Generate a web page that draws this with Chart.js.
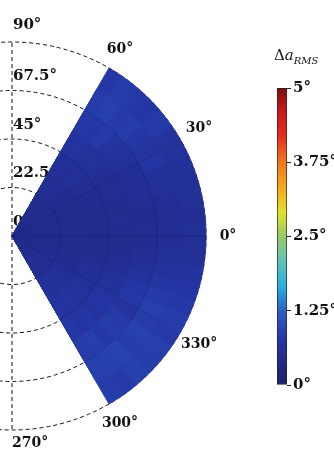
<!DOCTYPE html>
<html lang="en">
<head>
  <meta charset="UTF-8" />
  <title>RMS pointing error map</title>
  <script src="https://cdn.jsdelivr.net/npm/chart.js"></script>
  <style>
    body {
      margin: 0;
      width: 334px;
      height: 450px;
      overflow: hidden;
      position: relative;
      background: #fff;
      font-family: "DejaVu Serif", serif;
      color: #111;
    }
    #polar { position: absolute; left: -182px; top: 0; }
    #cbar { position: absolute; left: 262px; top: 70px; }
    .cbar-title {
      position: absolute;
      left: 274px;
      top: 46px;
      font-size: 15px;
      white-space: nowrap;
    }
    .cbar-title sub { font-size: 10px; font-style: italic; vertical-align: -4px; }
  </style>
</head>
<body>
  <canvas id="polar" width="600" height="450"></canvas>
  <div class="cbar-title">Δ<i>a</i><sub>RMS</sub></div>
  <canvas id="cbar" width="90" height="330"></canvas>

  <script>
    // azimuth bin centres (deg), from 60° down to -60° (=300°)
    const azimuthCells = [57.5, 52.5, 47.5, 42.5, 37.5, 32.5, 27.5, 22.5, 17.5, 12.5, 7.5, 2.5,
                          -2.5, -7.5, -12.5, -17.5, -22.5, -27.5, -32.5, -37.5, -42.5, -47.5, -52.5, -57.5];
    // outer edge of each elevation ring (deg)
    const ringEdges = [11.25, 22.5, 33.75, 45, 56.25, 67.5, 78.75, 90];
    // RMS error (deg), one row per ring (inner -> outer), one column per azimuth cell
    const rmsError = [
      [0.45, 0.42, 0.47, 0.44, 0.46, 0.43, 0.47, 0.45, 0.44, 0.46, 0.42, 0.45, 0.44, 0.47, 0.43, 0.45, 0.46, 0.44, 0.47, 0.45, 0.43, 0.46, 0.45, 0.44],
      [0.44, 0.48, 0.43, 0.46, 0.42, 0.47, 0.44, 0.41, 0.45, 0.43, 0.46, 0.40, 0.43, 0.45, 0.42, 0.47, 0.44, 0.48, 0.45, 0.50, 0.47, 0.49, 0.52, 0.48],
      [0.50, 0.47, 0.52, 0.49, 0.45, 0.48, 0.43, 0.46, 0.42, 0.44, 0.41, 0.43, 0.45, 0.42, 0.46, 0.44, 0.48, 0.46, 0.52, 0.55, 0.53, 0.58, 0.56, 0.60],
      [0.55, 0.58, 0.52, 0.56, 0.50, 0.47, 0.45, 0.49, 0.44, 0.42, 0.46, 0.43, 0.41, 0.45, 0.44, 0.48, 0.50, 0.53, 0.58, 0.62, 0.60, 0.66, 0.63, 0.68],
      [0.64, 0.68, 0.62, 0.60, 0.55, 0.52, 0.48, 0.50, 0.46, 0.44, 0.47, 0.45, 0.43, 0.46, 0.49, 0.52, 0.58, 0.62, 0.66, 0.70, 0.64, 0.72, 0.68, 0.74],
      [0.76, 0.72, 0.78, 0.68, 0.64, 0.58, 0.54, 0.50, 0.52, 0.47, 0.45, 0.49, 0.46, 0.50, 0.55, 0.62, 0.70, 0.74, 0.68, 0.78, 0.82, 0.76, 0.84, 0.80],
      [0.82, 0.86, 0.78, 0.80, 0.72, 0.66, 0.70, 0.58, 0.55, 0.52, 0.50, 0.48, 0.52, 0.56, 0.62, 0.72, 0.78, 0.84, 0.80, 0.88, 0.82, 0.90, 0.86, 0.84],
      [0.74, 0.80, 0.76, 0.72, 0.78, 0.68, 0.62, 0.58, 0.54, 0.56, 0.52, 0.55, 0.53, 0.58, 0.64, 0.70, 0.76, 0.82, 0.78, 0.84, 0.80, 0.86, 0.78, 0.82]
    ];
    const radialTicks = [0, 22.5, 45, 67.5, 90];
    const azimuthTicks = [60, 30, 0, 330, 300, 270];
    const colorTicks = [0, 1.25, 2.5, 3.75, 5];

    // jet-like colour map for 0..5 deg
    const cmap = [
      [0, [28, 30, 105]], [0.7, [36, 52, 162]], [1.25, [45, 95, 195]], [1.65, [40, 175, 225]],
      [2.1, [100, 195, 180]], [2.5, [150, 200, 100]], [2.9, [225, 225, 45]], [3.3, [245, 170, 30]],
      [3.75, [240, 120, 30]], [4.2, [230, 45, 30]], [4.6, [200, 25, 25]], [5, [125, 15, 15]]
    ];
    function colorFor(v) {
      for (let i = 1; i < cmap.length; i++) {
        if (v <= cmap[i][0]) {
          const [v0, c0] = cmap[i - 1], [v1, c1] = cmap[i];
          const t = (v - v0) / (v1 - v0);
          return 'rgb(' + c0.map((c, k) => Math.round(c + (c1[k] - c) * t)).join(',') + ')';
        }
      }
      return 'rgb(' + cmap[cmap.length - 1][1].join(',') + ')';
    }

    // the polar area chart covers the full circle; cells outside the sector stay empty
    const cellWidth = azimuthCells[0] - azimuthCells[1];
    const sectorStart = azimuthCells[0] + cellWidth / 2;
    const emptyCells = 360 / cellWidth - azimuthCells.length;
    const labels = azimuthCells.map(a => a + '°');
    for (let k = 0; k < emptyCells; k++) labels.push('');

    const datasets = ringEdges.map((edge, ring) => ({
      data: azimuthCells.map(() => edge).concat(Array(emptyCells).fill(0)),
      backgroundColor: rmsError[ring].map(colorFor).concat(Array(emptyCells).fill('transparent')),
      borderColor: rmsError[ring].map(colorFor).concat(Array(emptyCells).fill('transparent')),
      borderWidth: 1
    }));

    const isVertical = i => {
      const a = ((sectorStart - i * cellWidth) % 180 + 180) % 180;
      return a === 90;
    };

    const polarText = {
      id: 'polarText',
      beforeDatasetsDraw(chart) {
        const r = chart.scales.r, ctx = chart.ctx;
        ctx.save();
        ctx.font = 'bold 15px "DejaVu Serif"';
        ctx.fillStyle = '#111';
        ctx.textAlign = 'left';
        ctx.textBaseline = 'middle';
        radialTicks.forEach(v => {
          const d = r.getDistanceFromCenterForValue(v);
          ctx.fillText(v + '°', r.xCenter + 1, r.yCenter - d - (v === 90 ? 17 : 14));
        });
        ctx.restore();
      },
      afterDatasetsDraw(chart) {
        const r = chart.scales.r, ctx = chart.ctx;
        const rad = a => -a * Math.PI / 180;
        const outer = r.getDistanceFromCenterForValue(90);
        ctx.save();
        // faint grid inside the sector
        ctx.strokeStyle = 'rgba(10,12,60,0.18)';
        ctx.lineWidth = 1;
        radialTicks.slice(1, -1).forEach(v => {
          ctx.beginPath();
          ctx.arc(r.xCenter, r.yCenter, r.getDistanceFromCenterForValue(v), rad(sectorStart), rad(-sectorStart));
          ctx.stroke();
        });
        [30, 0, -30].forEach(a => {
          ctx.beginPath();
          ctx.moveTo(r.xCenter, r.yCenter);
          ctx.lineTo(r.xCenter + outer * Math.cos(rad(a)), r.yCenter + outer * Math.sin(rad(a)));
          ctx.stroke();
        });
        // azimuth labels
        ctx.font = 'bold 14px "DejaVu Serif"';
        ctx.fillStyle = '#111';
        ctx.textBaseline = 'middle';
        azimuthTicks.forEach(a => {
          if (a === 270) {
            ctx.textAlign = 'left';
            ctx.fillText(a + '°', r.xCenter, r.yCenter + outer + 13);
          } else {
            ctx.textAlign = 'center';
            const d = outer + 22;
            ctx.fillText(a + '°', r.xCenter + d * Math.cos(rad(a)), r.yCenter + d * Math.sin(rad(a)));
          }
        });
        ctx.restore();
      }
    };

    new Chart(document.getElementById('polar'), {
      type: 'polarArea',
      data: { labels: labels, datasets: datasets },
      options: {
        responsive: false,
        animation: false,
        events: [],
        layout: { padding: { left: 0, right: 212, top: 36, bottom: 14 } },
        plugins: { legend: { display: false }, tooltip: { enabled: false } },
        scales: {
          r: {
            min: 0,
            max: 90,
            startAngle: 90 - sectorStart,
            ticks: { display: false, stepSize: 22.5 },
            grid: { circular: true, color: '#111', lineWidth: 1 },
            border: { dash: [4, 3] },
            angleLines: {
              display: true,
              color: c => isVertical(c.index) ? '#111' : 'transparent',
              lineWidth: c => isVertical(c.index) ? 1 : 0,
              borderDash: [4, 3]
            },
            pointLabels: { display: false }
          }
        }
      },
      plugins: [polarText]
    });

    // colour bar
    const barTop = colorTicks[colorTicks.length - 1];
    new Chart(document.getElementById('cbar'), {
      type: 'bar',
      data: {
        labels: [''],
        datasets: [{
          data: [barTop],
          backgroundColor: c => {
            const y = c.chart.scales.y;
            const y0 = y ? y.getPixelForValue(0) : NaN;
            const y1 = y ? y.getPixelForValue(barTop) : NaN;
            if (!isFinite(y0) || !isFinite(y1)) return '#222';
            const g = c.chart.ctx.createLinearGradient(0, y0, 0, y1);
            cmap.forEach(([v, rgb]) => g.addColorStop(v / barTop, 'rgb(' + rgb.join(',') + ')'));
            return g;
          },
          borderColor: '#222',
          borderWidth: 1,
          borderSkipped: false,
          barPercentage: 1,
          categoryPercentage: 1
        }]
      },
      options: {
        responsive: false,
        animation: false,
        events: [],
        layout: { padding: { left: 15, top: 18, bottom: 15, right: 0 } },
        plugins: { legend: { display: false }, tooltip: { enabled: false } },
        scales: {
          x: { display: false },
          y: {
            position: 'right',
            min: 0,
            max: barTop,
            afterFit: s => { s.width = 65; },
            grid: { drawOnChartArea: false, tickLength: 4, color: '#222' },
            border: { display: false },
            ticks: {
              stepSize: 1.25,
              padding: 2,
              color: '#111',
              font: { family: '"DejaVu Serif"', size: 15, weight: 'bold' },
              callback: v => v + '°'
            }
          }
        }
      }
    });
  </script>
</body>
</html>
